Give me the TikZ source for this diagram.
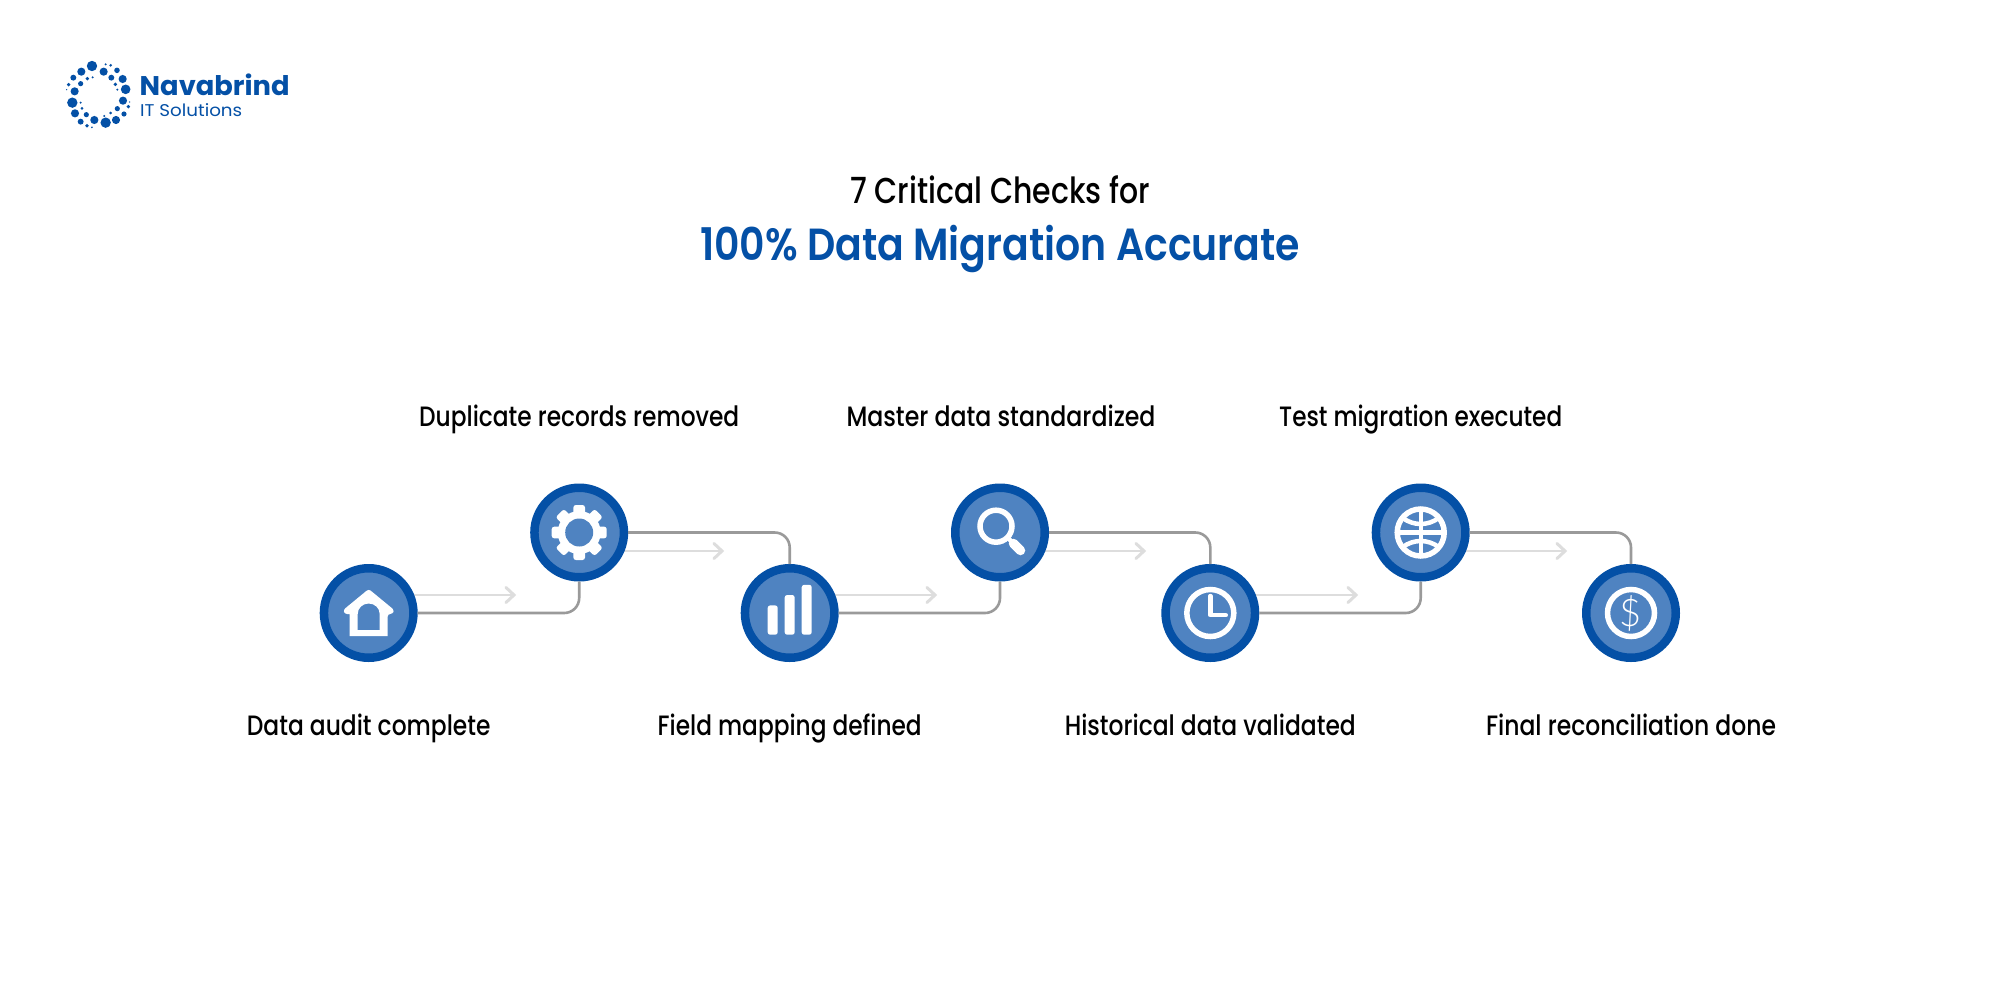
\documentclass[tikz,border=0pt]{standalone}
\usepackage{fontspec}
\usepackage{graphicx}
\setmainfont{Poppins}
\newfontfamily\popm{Poppins Medium}
\newfontfamily\pops{Poppins SemiBold}
\newfontfamily\thinf{Lato Light}
\definecolor{brand}{HTML}{0450A6}
\definecolor{inner}{HTML}{4F83C1}
\definecolor{conn}{HTML}{9A9A9A}
\definecolor{lightarrow}{HTML}{DDDDDD}
\newcommand{\fitw}[4]{\resizebox{#1pt}{\height}{\fontsize{#2}{#2}#3\selectfont #4}}
\tikzset{
  x=1pt,y=-1pt,
  stepdisc/.style={circle,draw=brand,fill=inner,line width=8.5pt,minimum size=89.5pt,inner sep=0pt},
  link/.style={draw=conn,line width=2.6pt,rounded corners=15pt},
  flow/.style={draw=lightarrow,line width=2.8pt},
  chev/.style={draw=lightarrow,line width=3pt,line cap=round,line join=miter},
  lab/.style={anchor=base,inner sep=0pt,text=black},
  wline/.style={draw=white,fill=none},
}
\begin{document}
\begin{tikzpicture}
\useasboundingbox (0,0) rectangle (2000,991);
\fill[white] (0,0) rectangle (2000,991);

% logo dots
\begin{scope}[shift={(40,40)},x=0.3333pt,y=-0.3333pt]
\foreach \px/\py/\pr in {156/78/14,124/95/11,191/95/11,100/113/8,142/116/5,214/113/8,231/91/7.5,197/73/3,212/76/4,158/112/3,248/117/11,122/131/7,86/134/5,226/133/5,80/149/2,104/154/11,257/148/13,232/149/3,97/188/14,249/182/11,269/186/2,122/188/3,105/220/11,126/205/4,265/200/5,232/206/7,139/224/7,212/219/4,193/228/3,252/222/7,122/245/8,163/240/11,197/248/14,228/240/11,141/257/5,156/262/2.5}
  \fill[brand] (\px,\py) circle [radius=\pr*0.37pt];
\end{scope}
\node (brandname) [anchor=base west,inner sep=0pt,text=brand] at (139.5,95) {\fitw{150}{27}{\bfseries}{Navabrind}};
\node (brandsub) [anchor=base west,inner sep=0pt,text=brand] at (140,116) {\fitw{102}{17}{}{IT Solutions}};

% titles
\node (t1) [lab] at (1000,203) {\fitw{300}{36}{\popm}{7 Critical Checks for}};
\node (t2) [lab,text=brand] at (1000,260.5) {\fitw{600}{45}{\pops}{100\% Data Migration Accurate}};

% light arrows (behind discs)
\coordinate (f1s) at (368.7,595); \coordinate (f1e) at (514,595);
\coordinate (f2s) at (579.2,551); \coordinate (f2e) at (722,551);
\coordinate (f3s) at (789.7,595); \coordinate (f3e) at (935,595);
\coordinate (f4s) at (1000,551);  \coordinate (f4e) at (1144,551);
\coordinate (f5s) at (1210.3,595);\coordinate (f5e) at (1356,595);
\coordinate (f6s) at (1420.7,551);\coordinate (f6e) at (1565,551);
\foreach \i in {1,...,6}{
  \draw[flow] (f\i s) -- (f\i e);
  \draw[chev] ([shift={(-8,-7.5)}]f\i e) -- (f\i e) -- ([shift={(-8,7.5)}]f\i e);
}

% discs
\node (c1) [stepdisc] at (368.7,613) {};
\node (c2) [stepdisc] at (579.2,532.5) {};
\node (c3) [stepdisc] at (789.7,613) {};
\node (c4) [stepdisc] at (1000,532.5) {};
\node (c5) [stepdisc] at (1210.3,613) {};
\node (c6) [stepdisc] at (1420.7,532.5) {};
\node (c7) [stepdisc] at (1631,613) {};

% connectors
\draw[link] (c1.east) -| (c2.south);
\draw[link] (c2.east) -| (c3.north);
\draw[link] (c3.east) -| (c4.south);
\draw[link] (c4.east) -| (c5.north);
\draw[link] (c5.east) -| (c6.south);
\draw[link] (c6.east) -| (c7.north);

% icon: house
\begin{scope}[shift={(c1.center)}]
\fill[white,even odd rule]
  [rounded corners=2.5pt] (0,-24) -- (25.5,-3) -- (24,1) -- (19,1) [sharp corners] -- (19,23) -- (-19,23) -- (-19,1) [rounded corners=2.5pt] -- (-24,1) -- (-25.5,-3) -- cycle
  [sharp corners] (-11,17) -- (11,17) -- (11,1) .. controls (11,-5) and (6,-9.5) .. (0,-9.5) .. controls (-6,-9.5) and (-11,-5) .. (-11,1) -- cycle;
\end{scope}

% icon: gear
\begin{scope}[shift={(c2.center)}]
\foreach \a in {0,45,...,315}
  \fill[white,rounded corners=2.5pt,rotate=\a] (-5.8,-27.5) rectangle (5.8,0);
\fill[white] (0,0) circle [radius=21.5pt];
\fill[inner] (0,0) circle [radius=14pt];
\end{scope}

% icon: bars
\begin{scope}[shift={(c3.center)}]
\fill[white,rounded corners=2.5pt] (-22,-7.6) rectangle (-12,21.7);
\fill[white,rounded corners=2.5pt] (-5,-18) rectangle (5,21.7);
\fill[white,rounded corners=2.5pt] (12,-28.2) rectangle (22,21.7);
\end{scope}

% icon: magnifier
\begin{scope}[shift={(c4.center)}]
\draw[wline,line width=5.5pt] (-4,-6.3) circle [radius=16pt];
\draw[wline,line width=4.5pt] (7,4.5) -- (14,11.5);
\draw[wline,line width=9.5pt,line cap=round] (13.5,11) -- (20.5,18);
\end{scope}

% icon: clock
\begin{scope}[shift={(c5.center)}]
\draw[wline,line width=5.5pt] (0,0) circle [radius=23.5pt];
\draw[wline,line width=4.5pt,line cap=round,line join=round] (0,-17) -- (0,2.2) -- (15.5,2.2);
\end{scope}

% icon: globe
\begin{scope}[shift={(c6.center)}]
\draw[wline,line width=5.5pt] (0,0) circle [radius=23.5pt];
\draw[wline,line width=5.5pt] (-23.5,0) -- (23.5,0);
\draw[wline,line width=4pt] (0,-23.5) -- (0,23.5);
\draw[wline,line width=4.5pt] (-18,-14.5) .. controls (-7,-6.5) and (7,-6.5) .. (18,-14.5);
\draw[wline,line width=4.5pt] (-18,14.5) .. controls (-7,6.5) and (7,6.5) .. (18,14.5);
\end{scope}

% icon: dollar
\begin{scope}[shift={(c7.center)}]
\draw[wline,line width=5.5pt] (0,0) circle [radius=23.5pt];
\node (dollar) [inner sep=0pt,text=white] at (0,0) {\fontsize{38}{38}\thinf\selectfont\$};
\end{scope}

% labels
\node (l1) [lab] at (368.7,735) {\fitw{243.6}{28}{\popm}{Data audit complete}};
\node (l2) [lab] at (579.2,426) {\fitw{320}{28}{\popm}{Duplicate records removed}};
\node (l3) [lab] at (789.7,735) {\fitw{264}{28}{\popm}{Field mapping defined}};
\node (l4) [lab] at (1001,426) {\fitw{309}{28}{\popm}{Master data standardized}};
\node (l5) [lab] at (1210.3,735) {\fitw{291}{28}{\popm}{Historical data validated}};
\node (l6) [lab] at (1420.7,426) {\fitw{283}{28}{\popm}{Test migration executed}};
\node (l7) [lab] at (1631,735) {\fitw{290}{28}{\popm}{Final reconciliation done}};
\end{tikzpicture}
\end{document}
